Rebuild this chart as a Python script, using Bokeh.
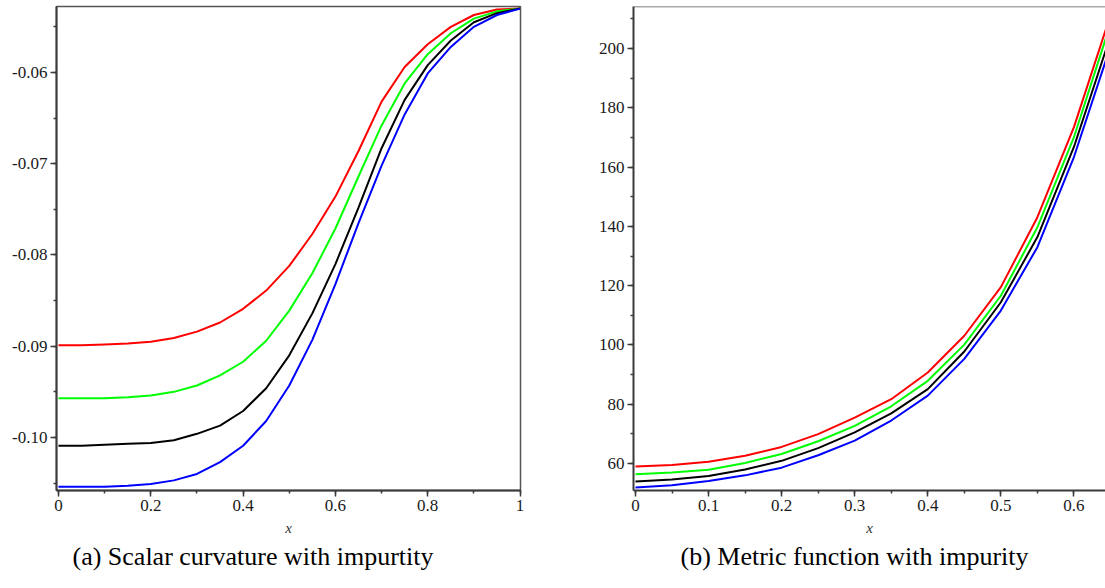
from bokeh.plotting import figure
from bokeh.layouts import row
from bokeh.models import (Title, Span, CustomJSTickFormatter, SingleIntervalTicker)
from bokeh.embed import file_html
from bokeh.resources import INLINE

# ---------------- data: (a) scalar curvature ----------------
xa = [0.0, 0.05, 0.1, 0.15, 0.2, 0.25, 0.3, 0.35, 0.4, 0.45, 0.5,
      0.55, 0.6, 0.65, 0.7, 0.75, 0.8, 0.85, 0.9, 0.95, 1.0]
ra_red = [-0.0899, -0.0899, -0.0898, -0.0897, -0.0895, -0.0891, -0.0884, -0.0874, -0.0859, -0.0839, -0.0812,
          -0.0777, -0.0736, -0.0686, -0.0632, -0.0594, -0.0569, -0.0550, -0.0537, -0.0531, -0.0530]
ra_green = [-0.0957, -0.0957, -0.0957, -0.0956, -0.0954, -0.0950, -0.0943, -0.0932, -0.0917, -0.0894, -0.0861,
            -0.0820, -0.0771, -0.0714, -0.0658, -0.0612, -0.0580, -0.0557, -0.0541, -0.0533, -0.0530]
ra_black = [-0.1009, -0.1009, -0.1008, -0.1007, -0.1006, -0.1003, -0.0996, -0.0987, -0.0971, -0.0946, -0.0910,
            -0.0864, -0.0810, -0.0748, -0.0683, -0.0630, -0.0592, -0.0565, -0.0545, -0.0535, -0.0530]
ra_blue = [-0.1054, -0.1054, -0.1054, -0.1053, -0.1051, -0.1047, -0.1040, -0.1027, -0.1009, -0.0982, -0.0943,
           -0.0893, -0.0832, -0.0765, -0.0702, -0.0646, -0.0601, -0.0572, -0.0550, -0.0537, -0.0530]

# ---------------- data: (b) metric function ----------------
xb = [0.0, 0.05, 0.1, 0.15, 0.2, 0.25, 0.3, 0.35, 0.4, 0.45, 0.5, 0.55, 0.6, 0.645]
mb_red = [59.0, 59.5, 60.6, 62.6, 65.6, 69.9, 75.5, 81.7, 90.7, 103.1, 119.5, 143.1, 173.5, 207.5]
mb_green = [56.4, 57.0, 57.9, 60.2, 63.2, 67.5, 72.7, 79.3, 87.9, 100.1, 116.6, 139.7, 170.1, 204.5]
mb_black = [53.9, 54.6, 55.8, 58.0, 60.9, 65.2, 70.5, 76.9, 85.1, 97.8, 114.4, 136.4, 166.8, 200.5]
mb_blue = [51.9, 52.7, 54.1, 56.0, 58.6, 62.8, 67.7, 74.5, 82.9, 95.3, 111.6, 133.0, 163.4, 197.0]

caption_a = "(a) Scalar curvature with impurtity"
caption_b = "(b) Metric function with impurity"

COLORS = ["#ff0000", "#00ff00", "#000000", "#0000ff"]
AXIS_COL = "#3a3a3a"
SERIF = "Liberation Serif"


def style_axes(p):
    for ax in (p.xaxis[0], p.yaxis[0]):
        ax.axis_line_color = AXIS_COL
        ax.axis_line_width = 2
        ax.major_tick_line_color = AXIS_COL
        ax.minor_tick_line_color = AXIS_COL
        ax.major_tick_line_width = 1.5
        ax.minor_tick_line_width = 1.5
        ax.major_tick_in = 0
        ax.major_tick_out = 6
        ax.minor_tick_in = 0
        ax.minor_tick_out = 3
        ax.major_label_text_font = SERIF
        ax.major_label_text_font_size = "17px"
        ax.major_label_text_color = "#1a1a1a"
        ax.major_label_standoff = 3
    p.xaxis.axis_label = "x"
    p.xaxis.axis_label_text_font = SERIF
    p.xaxis.axis_label_text_font_style = "italic"
    p.xaxis.axis_label_text_font_size = "15px"
    p.xaxis.axis_label_text_color = "#333333"
    p.xaxis.axis_label_standoff = 6
    p.grid.visible = False
    p.background_fill_color = "white"
    p.border_fill_color = "white"


# ---------------- figure (a) ----------------
pa = figure(width=570, height=580, x_range=(-0.0043, 1.001), y_range=(-0.10581, -0.05277),
            output_backend="svg", toolbar_location=None,
            min_border_left=56, min_border_right=50, min_border_top=6, min_border_bottom=90)
style_axes(pa)
pa.outline_line_color = "#555555"
pa.outline_line_width = 1.5
pa.xaxis.ticker = SingleIntervalTicker(interval=0.2, num_minor_ticks=2)
pa.yaxis.ticker = SingleIntervalTicker(interval=0.01, num_minor_ticks=2)
pa.xaxis.formatter = CustomJSTickFormatter(code="return String(Number(tick.toFixed(2)));")
pa.yaxis.formatter = CustomJSTickFormatter(code="return tick.toFixed(2);")
for ys, c in zip([ra_red, ra_green, ra_black, ra_blue], COLORS):
    pa.line(xa, ys, line_color=c, line_width=2)
pa.add_layout(Title(text=caption_a, align="left", offset=16, text_font=SERIF,
                    text_font_size="26px", text_font_style="normal", text_color="#000000",
                    standoff=2), "below")

# ---------------- figure (b) ----------------
pb = figure(width=535, height=580, x_range=(-0.0027, 0.6432), y_range=(50.89, 214.2),
            output_backend="svg", toolbar_location=None,
            min_border_left=63, min_border_right=0, min_border_top=6, min_border_bottom=90)
style_axes(pb)
pb.outline_line_color = None
pb.xaxis.ticker = SingleIntervalTicker(interval=0.1, num_minor_ticks=2)
pb.yaxis.ticker = SingleIntervalTicker(interval=20, num_minor_ticks=2)
pb.xaxis.formatter = CustomJSTickFormatter(code="return String(Number(tick.toFixed(2)));")
pb.yaxis.formatter = CustomJSTickFormatter(code="return tick.toFixed(0);")
pb.add_layout(Span(location=214.2, dimension="width", line_color="#555555", line_width=1.5))
for ys, c in zip([mb_red, mb_green, mb_black, mb_blue], COLORS):
    pb.line(xb, ys, line_color=c, line_width=2)
pb.add_layout(Title(text=caption_b, align="left", offset=47, text_font=SERIF,
                    text_font_size="26px", text_font_style="normal", text_color="#000000",
                    standoff=2), "below")

layout = row(pa, pb)
open("out.html", "w").write(file_html(layout, INLINE))
